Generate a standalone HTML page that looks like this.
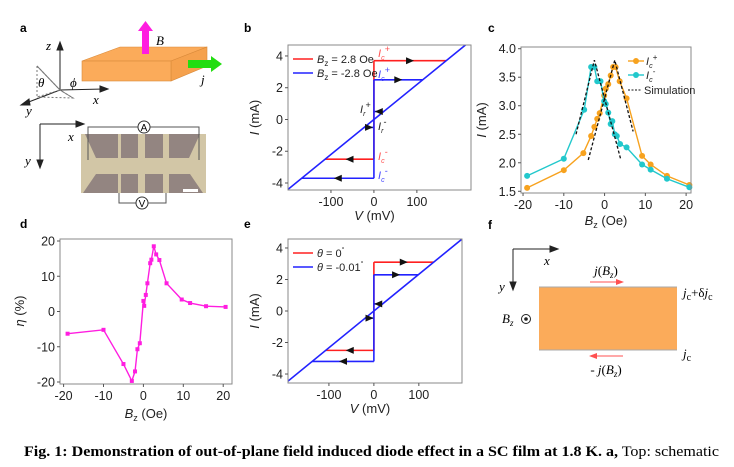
<!DOCTYPE html>
<html><head><meta charset="utf-8"><style>
html,body{margin:0;padding:0;background:#fff;}
svg{display:block;font-family:"Liberation Sans",sans-serif;}
</style></head><body>
<svg id="fig" width="734" height="467" viewBox="0 0 734 467" xmlns="http://www.w3.org/2000/svg">
<!-- Panel a -->
<g>
<text x="20" y="32" font-size="12" font-weight="bold">a</text>
<g stroke="#222" fill="none" stroke-width="1">
<line x1="60" y1="90" x2="60" y2="46"/><polygon points="60,42 57,50 63,50" fill="#222"/>
<line x1="60" y1="90" x2="104" y2="89"/><polygon points="108,89 100,86 100,92" fill="#222"/>
<line x1="60" y1="90" x2="26" y2="103"/><polygon points="21,105 29,99 30,105" fill="#222"/>
<polyline points="37,66 37,97 60,90" stroke-dasharray="2,2" stroke="#777"/>
<polyline points="37,66 60,90 73,98 37,97" stroke="#777" stroke-dasharray="2,2"/>
<line x1="37" y1="66" x2="60" y2="90" stroke="#777"/>
<line x1="60" y1="90" x2="73" y2="98" stroke="#777"/>
</g>
<text x="46" y="50" font-family="Liberation Serif,serif" font-style="italic" font-size="13">z</text>
<text x="38" y="87" font-family="Liberation Serif,serif" font-style="italic" font-size="13">θ</text>
<text x="70" y="87" font-family="Liberation Serif,serif" font-style="italic" font-size="13">ϕ</text>
<text x="93" y="104" font-family="Liberation Serif,serif" font-style="italic" font-size="13">x</text>
<text x="26" y="115" font-family="Liberation Serif,serif" font-style="italic" font-size="13">y</text>
<g stroke="#d98a3a" stroke-width="0.6">
<polygon points="82,61 120,47 207,47 171,61" fill="#fbab5a"/>
<polygon points="171,61 207,47 207,66 171,81" fill="#f5a14d"/>
<rect x="82" y="61" width="89" height="20" fill="#fbab5a"/>
</g>
<g fill="#ff1de0">
<rect x="142" y="31" width="7" height="23"/><polygon points="138,31 145.5,21 153,31"/>
</g>
<text x="156" y="45" font-family="Liberation Serif,serif" font-style="italic" font-size="13">B</text>
<g fill="#22dd11">
<rect x="188" y="60" width="23" height="8"/><polygon points="211,56 222,64 211,72"/>
</g>
<text x="201" y="84" font-family="Liberation Serif,serif" font-style="italic" font-size="13">j</text>
<g stroke="#222">
<line x1="40" y1="124" x2="78" y2="124"/><polygon points="84,124 76,121 76,127" fill="#222"/>
<line x1="40" y1="124" x2="40" y2="162"/><polygon points="40,168 37,160 43,160" fill="#222"/>
</g>
<text x="68" y="141" font-family="Liberation Serif,serif" font-style="italic" font-size="13">x</text>
<text x="25" y="165" font-family="Liberation Serif,serif" font-style="italic" font-size="13">y</text>
<g>
<rect x="81" y="134" width="125" height="59" fill="#d2c6a6"/>
<polygon points="85,134 118,134 118,158 96,158" fill="#938581"/>
<rect x="121" y="134" width="17" height="24" fill="#938581"/>
<rect x="145" y="134" width="18" height="24" fill="#938581"/>
<polygon points="169,134 200,134 189,158 169,158" fill="#938581"/>
<polygon points="96,174 118,174 118,193 83,193" fill="#938581"/>
<rect x="121" y="174" width="17" height="19" fill="#938581"/>
<rect x="145" y="174" width="18" height="19" fill="#938581"/>
<polygon points="169,174 190,174 203,193 169,193" fill="#938581"/>
<rect x="183" y="189" width="15" height="3" fill="#fff"/>
</g>
<g fill="none" stroke="#555">
<polyline points="88,160 88,127 199,127 199,160"/>
<circle cx="144" cy="127" r="6" fill="#fff" stroke="#333"/>
</g>
<text x="144" y="131" font-size="10" text-anchor="middle">A</text>
<g fill="none" stroke="#555">
<polyline points="119,193 119,203 166,203 166,193"/>
<circle cx="142" cy="203" r="6" fill="#fff" stroke="#333"/>
</g>
<text x="142" y="207" font-size="10" text-anchor="middle">V</text>
</g>

<!-- Panel f -->
<g>
<text x="488" y="229" font-size="12" font-weight="bold">f</text>
<g stroke="#222">
<line x1="513" y1="249" x2="552" y2="249"/><polygon points="558,249 550,246 550,252" fill="#222"/>
<line x1="513" y1="249" x2="513" y2="284"/><polygon points="513,290 510,282 516,282" fill="#222"/>
</g>
<text x="544" y="265" font-family="Liberation Serif,serif" font-style="italic" font-size="13">x</text>
<text x="499" y="291" font-family="Liberation Serif,serif" font-style="italic" font-size="13">y</text>
<rect x="539" y="287" width="138" height="63" fill="#fbab5a"/>
<line x1="539" y1="287" x2="677" y2="287" stroke="#aaa"/>
<line x1="539" y1="350" x2="677" y2="350" stroke="#aaa"/>
<g><line x1="590" y1="282" x2="618" y2="282" stroke="#ff5050"/><polygon points="624,282 616,279 616,285" fill="#ff5050"/></g>
<g><line x1="596" y1="356" x2="623" y2="356" stroke="#ff5050"/><polygon points="589,356 597,353 597,359" fill="#ff5050"/></g>
<text x="606" y="275" text-anchor="middle" font-family="Liberation Serif,serif" font-size="13"><tspan font-style="italic">j</tspan>(<tspan font-style="italic">B</tspan><tspan font-style="italic" font-size="9" dy="3">z</tspan><tspan dy="-3">)</tspan></text>
<text x="606" y="374" text-anchor="middle" font-family="Liberation Serif,serif" font-size="13">- <tspan font-style="italic">j</tspan>(<tspan font-style="italic">B</tspan><tspan font-style="italic" font-size="9" dy="3">z</tspan><tspan dy="-3">)</tspan></text>
<text x="683" y="297" font-family="Liberation Serif,serif" font-size="13"><tspan font-style="italic">j</tspan><tspan font-size="10" dy="3">c</tspan><tspan dy="-3">+δ</tspan><tspan font-style="italic">j</tspan><tspan font-size="10" dy="3">c</tspan></text>
<text x="683" y="358" font-family="Liberation Serif,serif" font-size="13"><tspan font-style="italic">j</tspan><tspan font-size="10" dy="3">c</tspan></text>
<text x="502" y="323" font-family="Liberation Serif,serif" font-style="italic" font-size="13">B<tspan font-size="9" dy="3">z</tspan></text>
<g><circle cx="526" cy="319" r="4.5" fill="none" stroke="#222"/><circle cx="526" cy="319" r="1.8" fill="#222"/></g>
</g>

<text x="24" y="456" font-family="Liberation Serif,serif" font-size="15" textLength="695" lengthAdjust="spacingAndGlyphs"><tspan font-weight="bold">Fig. 1: Demonstration of out-of-plane field induced diode effect in a SC film at 1.8 K. a,</tspan> Top: schematic</text>
</svg>
<script>
// ---- Panel b data ----
const bTicksX = [-100, 0, 100];
const bTicksY = [-4, -2, 0, 2, 4];
const bSlope = [0.022];
const bRetrap = [0.5];
const bRedIc = [3.7, -2.5];
const bBlueIc = [2.5, -3.7];
// ---- Panel e data ----
const eTicksX = [-100, 0, 100];
const eTicksY = [-4, -2, 0, 2, 4];
const eSlope = [0.0233];
const eRetrap = [0.45];
const eRedIc = [3.1, -2.5];
const eBlueIc = [2.3, -3.2];
// ---- Panel c data ----
const cTicksX = [-20, -10, 0, 10, 20];
const cTicksY = [1.5, 2.0, 2.5, 3.0, 3.5, 4.0];
const cPlusB = [-19, -10, -5.2, -3.3, -2.5, -1.8, -1.2, -0.1, 0.3, 0.9, 1.5, 2.1, 2.7, 3.7, 5.4, 9.2, 11.3, 15.3, 20.8];
const cPlusI = [1.56, 1.87, 2.17, 2.47, 2.63, 2.77, 2.87, 3.18, 3.30, 3.38, 3.53, 3.68, 3.68, 3.43, 3.13, 2.12, 1.97, 1.77, 1.61];
const cMinusB = [-19, -10, -5, -3.3, -2.5, -1.8, -1, -0.1, 0.3, 0.9, 1.5, 1.9, 2.5, 3.0, 3.8, 5.4, 9.2, 11.3, 15.3, 20.8];
const cMinusI = [1.77, 2.07, 2.93, 3.68, 3.68, 3.43, 3.43, 3.08, 3.03, 2.88, 2.68, 2.73, 2.50, 2.47, 2.33, 2.27, 1.97, 1.88, 1.72, 1.57];
const cSimAB = [-7, -2.5, 4];
const cSimAI = [2.50, 3.80, 2.05];
const cSimBB = [-4, 2.5, 7];
const cSimBI = [2.05, 3.80, 2.55];
// ---- Panel d data ----
const dTicksX = [-20, -10, 0, 10, 20];
const dTicksY = [-20, -10, 0, 10, 20];
const dB = [-19, -10, -5, -2.9, -2.1, -1.5, -0.9, 0, 0.2, 0.6, 1, 1.7, 2, 2.6, 3.2, 4, 5.8, 9.6, 11.7, 15.7, 20.6];
const dEta = [-6.3, -5.2, -14.9, -19.7, -17, -10.7, -9, 3, 1.6, 4.7, 8, 13.7, 14.7, 18.5, 16.2, 14.6, 8, 3.4, 2.4, 1.5, 1.3];

const NS = 'http://www.w3.org/2000/svg';
const svg = document.getElementById('fig');
function mk(tag, attrs, parent) {
  const e = document.createElementNS(NS, tag);
  for (const k in attrs) e.setAttribute(k, attrs[k]);
  (parent || svg).appendChild(e);
  return e;
}
function scale(d0, d1, r0, r1) { return v => r0 + (v - d0) / (d1 - d0) * (r1 - r0); }

function frame(name, L, T, R, B, sx, sy, tx, ty, fmtX, fmtY) {
  const g = mk('g', {});
  
  
  const fr = mk('rect', { x: L, y: T, width: R - L, height: B - T, fill: 'none', stroke: '#8a8a8a', 'stroke-width': 1 }, g);
  
  
  tx.forEach(v => {
    const x = sx(v);
    mk('line', { x1: x, y1: B, x2: x, y2: B + 3, stroke: '#555' }, g);
    const t = mk('text', { x: x, y: B + 16, 'font-size': 12.5, 'text-anchor': 'middle', fill: '#222' }, g);
    t.textContent = fmtX(v);
    
    
  });
  ty.forEach(v => {
    const y = sy(v);
    mk('line', { x1: L - 3, y1: y, x2: L, y2: y, stroke: '#555' }, g);
    const t = mk('text', { x: L - 5, y: y + 4.5, 'font-size': 12.5, 'text-anchor': 'end', fill: '#222' }, g);
    t.textContent = fmtY(v);
    
    
  });
  return g;
}
function clipFor(id, L, T, R, B) {
  let defs = svg.querySelector('defs') || mk('defs', {});
  const cp = mk('clipPath', { id: id }, defs);
  mk('rect', { x: L, y: T, width: R - L, height: B - T }, cp);
}
function axisTitle(txt, x, y, rot, name) {
  const t = mk('text', { x: x, y: y, 'font-size': 13, 'text-anchor': 'middle', fill: '#222' });
  if (rot) t.setAttribute('transform', 'rotate(-90 ' + x + ' ' + y + ')');
  t.innerHTML = txt;
  
  
  return t;
}
function arrowHead(x, y, dir, color, g) {
  const p = dir > 0 ? [[x + 4, y], [x - 4, y - 3.5], [x - 4, y + 3.5]] : [[x - 4, y], [x + 4, y - 3.5], [x + 4, y + 3.5]];
  const a = mk('polygon', { points: p.map(q => q.join(',')).join(' '), fill: '#111' }, g);
  
  
}

function ivPanel(name, L, T, R, B, xd, yd, ticksX, ticksY, slope, retrap, red, blue, legend) {
  const sx = scale(xd[0], xd[1], L, R), sy = scale(yd[0], yd[1], B, T);
  clipFor(name + '-clip', L, T, R, B);
  const g = mk('g', { 'clip-path': 'url(#' + name + '-clip)' });
  
  
  const k = slope[0], ir = retrap[0];
  function branch(ic, color, cname) {
    const sg = mk('g', { stroke: color, 'stroke-width': 1.6, fill: 'none' }, g);
    
    
    mk('line', { x1: sx(0), y1: sy(ic[1]), x2: sx(0), y2: sy(ic[0]) }, sg);
    mk('line', { x1: sx(0), y1: sy(ic[0]), x2: sx(ic[0] / k), y2: sy(ic[0]) }, sg);
    mk('line', { x1: sx(0), y1: sy(ic[1]), x2: sx(ic[1] / k), y2: sy(ic[1]) }, sg);
    return sg;
  }
  branch(red, '#ff2020', name + '-red-branch');
  const bl = branch(blue, '#2222ff', name + '-blue-branch');
  mk('line', { x1: sx(xd[0]), y1: sy(k * xd[0]), x2: sx(xd[1]), y2: sy(k * xd[1]) }, bl);
  mk('line', { x1: sx(0), y1: sy(ir), x2: sx(ir / k), y2: sy(ir) }, bl);
  mk('line', { x1: sx(0), y1: sy(-ir), x2: sx(-ir / k), y2: sy(-ir) }, bl);
  arrowHead(sx(red[0] / k / 2), sy(red[0]), 1, '#111', g);
  arrowHead(sx(blue[0] / k / 2), sy(blue[0]), 1, '#111', g);
  arrowHead(sx(red[1] / k / 2), sy(red[1]), -1, '#111', g);
  arrowHead(sx(blue[1] / k / 2), sy(blue[1]), -1, '#111', g);
  arrowHead(sx(ir / k / 2), sy(ir), -1, '#111', g);
  arrowHead(sx(-ir / k / 2), sy(-ir), 1, '#111', g);
  frame(name, L, T, R, B, sx, sy, ticksX, ticksY, v => String(v), v => String(v));
  axisTitle('<tspan font-style="italic">V</tspan> (mV)', (L + R) / 2 - 5, B + 30, false, name + '-x-axis-title');
  axisTitle('<tspan font-style="italic">I</tspan> (mA)', L - 29, (T + B) / 2, true, name + '-y-axis-title');
  legend.forEach((lab, i) => {
    const y = T + 14 + i * 14;
    const lg = mk('g', {});
    
    
    mk('line', { x1: L + 5, y1: y, x2: L + 25, y2: y, stroke: i ? '#2222ff' : '#ff2020', 'stroke-width': 1.6 }, lg);
    const t = mk('text', { x: L + 29, y: y + 4, 'font-size': 11, fill: '#222' }, lg);
    t.innerHTML = lab;
  });
  return { sx, sy };
}

// Panel b
mk('text', { x: 244, y: 32, 'font-size': 12, 'font-weight': 'bold' }).textContent = 'b';
const pb = ivPanel('panel-b', 288, 45, 471, 190, [-200, 226], [-4.44, 4.69], bTicksX, bTicksY, bSlope, bRetrap, bRedIc, bBlueIc,
  ['<tspan font-style="italic">B</tspan><tspan font-size="8" dy="3">z</tspan><tspan dy="-3"> = 2.8 Oe</tspan>', '<tspan font-style="italic">B</tspan><tspan font-size="8" dy="3">z</tspan><tspan dy="-3"> = -2.8 Oe</tspan>']);
function icLabel(x, y, color, sup, name) {
  const t = mk('text', { x: x, y: y, 'font-size': 11, fill: color, 'font-style': 'italic' });
  t.innerHTML = 'I<tspan font-size="7" dy="3">' + sup[0] + '</tspan><tspan font-size="9" dy="-8">' + sup[1] + '</tspan>';
  
  
}
icLabel(378, 57, '#ff5050', ['c', '+'], 'ic-plus-red-label');
icLabel(378, 78, '#4444ff', ['c', '+'], 'ic-plus-blue-label');
icLabel(360, 113, '#222', ['r', '+'], 'ir-plus-label');
icLabel(378, 130, '#222', ['r', '-'], 'ir-minus-label');
icLabel(378, 160, '#ff5050', ['c', '-'], 'ic-minus-red-label');
icLabel(378, 179, '#4444ff', ['c', '-'], 'ic-minus-blue-label');

// Panel e
mk('text', { x: 244, y: 228, 'font-size': 12, 'font-weight': 'bold' }).textContent = 'e';
ivPanel('panel-e', 288, 239, 462, 383, [-191, 196], [-4.57, 4.57], eTicksX, eTicksY, eSlope, eRetrap, eRedIc, eBlueIc,
  ['<tspan font-style="italic">θ</tspan> = 0<tspan font-size="7" dy="-5">°</tspan>', '<tspan font-style="italic">θ</tspan> = -0.01<tspan font-size="7" dy="-5">°</tspan>']);

// Panel c
mk('text', { x: 488, y: 32, 'font-size': 12, 'font-weight': 'bold' }).textContent = 'c';
(function () {
  const L = 521, T = 47, R = 691, B = 193;
  const sx = scale(-20.5, 21.2, L, R), sy = scale(1.47, 4.03, B, T);
  const series = [[cPlusB, cPlusI, '#f7a21e', 'ic-plus-series'], [cMinusB, cMinusI, '#22c8cc', 'ic-minus-series']];
  series.forEach(s => {
    const g = mk('g', {});
    
    
    mk('polyline', { points: s[0].map((b, i) => sx(b) + ',' + sy(s[1][i])).join(' '), fill: 'none', stroke: s[2], 'stroke-width': 1.4 }, g);
    s[0].forEach((b, i) => {
      const c = mk('circle', { cx: sx(b), cy: sy(s[1][i]), r: 3, fill: s[2] }, g);
      
      
    });
  });
  [[cSimAB, cSimAI], [cSimBB, cSimBI]].forEach(s => {
    const p = mk('polyline', { points: s[0].map((b, i) => sx(b) + ',' + sy(s[1][i])).join(' '), fill: 'none', stroke: '#111', 'stroke-width': 1.3, 'stroke-dasharray': '3,2' });
    
    
  });
  frame('panel-c', L, T, R, B, sx, sy, cTicksX, cTicksY, v => String(v), v => v.toFixed(1));
  axisTitle('<tspan font-style="italic">B</tspan><tspan font-size="9" dy="3">z</tspan><tspan dy="-3"> (Oe)</tspan>', 606, 225, false, 'panel-c-x-axis-title');
  axisTitle('<tspan font-style="italic">I</tspan> (mA)', 486, 120, true, 'panel-c-y-axis-title');
  const lg = [['#f7a21e', 'c', '+'], ['#22c8cc', 'c', '-']];
  lg.forEach((l, i) => {
    const y = 61 + i * 14;
    const g = mk('g', {});
    
    
    mk('line', { x1: 628, y1: y, x2: 644, y2: y, stroke: l[0], 'stroke-width': 1.4 }, g);
    mk('circle', { cx: 636, cy: y, r: 3, fill: l[0] }, g);
    const t = mk('text', { x: 646, y: y + 4, 'font-size': 11, 'font-style': 'italic', fill: '#222' }, g);
    t.innerHTML = 'I<tspan font-size="7" dy="3">' + l[1] + '</tspan><tspan font-size="8" dy="-8">' + l[2] + '</tspan>';
  });
  const g = mk('g', {});
  
  
  mk('line', { x1: 628, y1: 90, x2: 642, y2: 90, stroke: '#111', 'stroke-dasharray': '2,1.5' }, g);
  mk('text', { x: 644, y: 94, 'font-size': 11, fill: '#222' }, g).textContent = 'Simulation';
})();

// Panel d
mk('text', { x: 20, y: 228, 'font-size': 12, 'font-weight': 'bold' }).textContent = 'd';
(function () {
  const L = 60, T = 239, R = 232, B = 384;
  const sx = scale(-20.4, 21.2, 62, 228), sy = scale(-20, 20, 382, 241);
  const g = mk('g', {});
  
  
  mk('polyline', { points: dB.map((b, i) => sx(b) + ',' + sy(dEta[i])).join(' '), fill: 'none', stroke: '#ff1de0', 'stroke-width': 1.4 }, g);
  dB.forEach((b, i) => {
    const r = mk('rect', { x: sx(b) - 2, y: sy(dEta[i]) - 2, width: 4, height: 4, fill: '#ff1de0' }, g);
    
    
  });
  frame('panel-d', L, T, R, B, sx, sy, dTicksX, dTicksY, v => String(v), v => String(v));
  axisTitle('<tspan font-style="italic">B</tspan><tspan font-size="9" dy="3">z</tspan><tspan dy="-3"> (Oe)</tspan>', 146, 418, false, 'panel-d-x-axis-title');
  axisTitle('<tspan font-style="italic">η</tspan> (%)', 24, 311, true, 'panel-d-y-axis-title');
})();
</script>
</body></html>
